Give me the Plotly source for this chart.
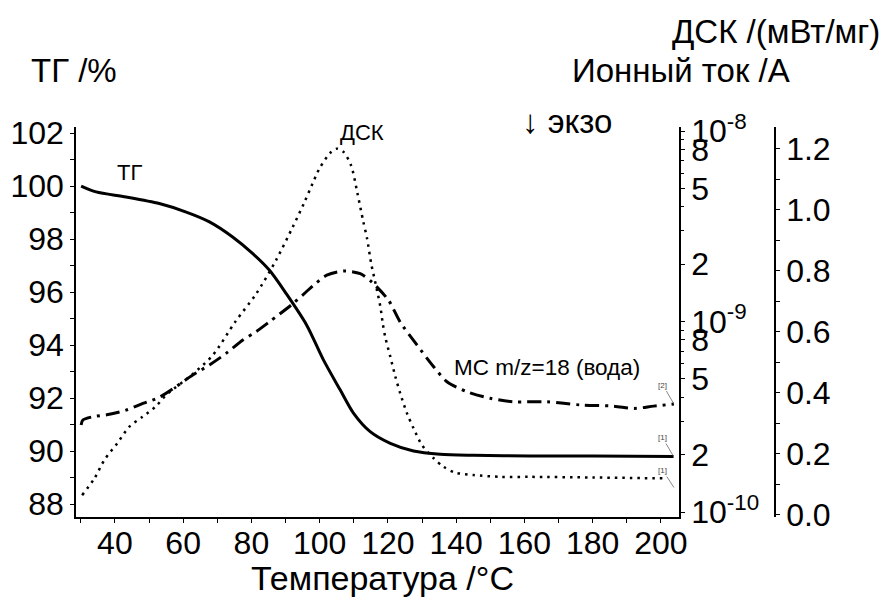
import plotly.graph_objects as go

# ---- data ----
temp_tg = [30.1, 34.5, 43.3, 53.0, 60.9, 67.7, 74.5, 80.4, 85.3, 90.2, 96.2, 101.1,
           106.0, 109.9, 114.8, 120.7, 127.5, 135.3, 145.1, 161.7, 180.0, 203.7]
tg = [100.0, 99.78, 99.59, 99.34, 99.02, 98.65, 98.08, 97.45, 96.82, 95.94, 94.75, 93.44,
      92.31, 91.43, 90.73, 90.29, 90.0, 89.88, 89.84, 89.81, 89.81, 89.79]

temp_dsc = [30.4, 34.0, 36.9, 40.8, 44.2, 48.1, 52.1, 55.0, 62.8, 68.7, 75.3, 81.4, 87.2,
            92.1, 95.4, 97.7, 99.9, 103.1, 105.0, 107.0, 109.2, 111.1, 112.7, 113.9, 115.1,
            116.6, 117.8, 118.5, 119.2, 120.7, 122.2, 123.6, 125.6, 127.5, 130.0, 133.4,
            136.3, 139.7, 145.1, 153.0, 161.7, 180.0, 200.8]
dsc = [0.065, 0.120, 0.180, 0.237, 0.289, 0.322, 0.357, 0.393, 0.462, 0.524, 0.634, 0.725,
       0.835, 0.944, 1.022, 1.081, 1.135, 1.187, 1.201, 1.190, 1.146, 1.053, 0.966, 0.906,
       0.824, 0.747, 0.682, 0.627, 0.584, 0.519, 0.453, 0.399, 0.333, 0.284, 0.229, 0.186,
       0.158, 0.139, 0.131, 0.125, 0.125, 0.123, 0.120]

temp_ms = [30.1, 30.6, 33.5, 38.4, 43.3, 48.2, 53.0, 57.9, 62.8, 67.7, 72.6, 77.5, 81.4,
           85.3, 92.1, 96.0, 98.2, 102.1, 107.0, 111.9, 115.3, 120.2, 123.6, 128.5, 133.4,
           137.3, 143.2, 149.9, 156.8, 166.6, 176.4, 186.2, 192.1, 197.9, 203.8]
ion_current = [2.864e-10, 3.041e-10, 3.162e-10, 3.258e-10, 3.428e-10, 3.715e-10, 4.000e-10,
               4.550e-10, 5.236e-10, 5.916e-10, 6.808e-10, 8.000e-10, 8.851e-10, 9.977e-10,
               1.239e-9, 1.429e-9, 1.549e-9, 1.750e-9, 1.841e-9, 1.782e-9, 1.611e-9,
               1.291e-9, 9.931e-10, 7.534e-10, 5.794e-10, 4.831e-10, 4.276e-10, 3.954e-10,
               3.793e-10, 3.793e-10, 3.648e-10, 3.597e-10, 3.499e-10, 3.597e-10, 3.690e-10]

x_ticks = [40, 60, 80, 100, 120, 140, 160, 180, 200]
tg_ticks = [88, 90, 92, 94, 96, 98, 100, 102]
ms_tickvals = [1e-10, 2e-10, 5e-10, 8e-10, 1e-9, 2e-9, 5e-9, 8e-9, 1e-8]
ms_ticktext = ["10<sup>-10</sup>", "2", "5", "8", "10<sup>-9</sup>", "2", "5", "8", "10<sup>-8</sup>"]
ms_minor = [3e-10, 4e-10, 6e-10, 7e-10, 9e-10, 3e-9, 4e-9, 6e-9, 7e-9, 9e-9]
dsc_ticks = [0.0, 0.2, 0.4, 0.6, 0.8, 1.0, 1.2]

FONT = "Arial, Liberation Sans, sans-serif"
TICKFONT = dict(family=FONT, size=32, color="black")

fig = go.Figure()
fig.add_trace(go.Scatter(x=temp_tg, y=tg, mode="lines", yaxis="y",
                         line=dict(color="black", width=3, shape="spline", smoothing=0.8),
                         showlegend=False))
fig.add_trace(go.Scatter(x=temp_ms, y=ion_current, mode="lines", yaxis="y2",
                         line=dict(color="black", width=3, shape="spline", smoothing=0.8,
                                   dash="14px,6px,3px,6px"),
                         showlegend=False))
fig.add_trace(go.Scatter(x=temp_dsc, y=dsc, mode="lines", yaxis="y3",
                         line=dict(color="black", width=2.5, shape="spline", smoothing=0.8,
                                   dash="2.5px,5px"),
                         showlegend=False))

axis_common = dict(showline=True, linecolor="black", linewidth=1.5, ticks="outside",
                   ticklen=4, tickwidth=1, tickcolor="black", showgrid=False,
                   zeroline=False, tickfont=TICKFONT, automargin=False)

# page body has an 8px margin: figure is sized so it fills the 887x599 window
fig.update_layout(
    width=879, height=591,
    margin=dict(l=68, r=112, t=119, b=82, autoexpand=False),
    paper_bgcolor="white", plot_bgcolor="white",
    xaxis=dict(domain=[0, 0.8627], range=[28.6, 205.3], tickvals=x_ticks,
               ticklabelstandoff=-7,
               minor=dict(dtick=10, tick0=0, ticks="outside", ticklen=4, tickcolor="black"),
               **axis_common),
    yaxis=dict(range=[87.51, 102.23], tickvals=tg_ticks,
               minor=dict(dtick=1, tick0=0, ticks="outside", ticklen=4, tickcolor="black"),
               **axis_common),
    yaxis2=dict(type="log", range=[-10.026, -7.979], overlaying="y", side="right",
                anchor="x", tickvals=ms_tickvals, ticktext=ms_ticktext,
                minor=dict(tickvals=ms_minor, ticks="outside", ticklen=3, tickcolor="black"),
                **axis_common),
    yaxis3=dict(range=[-0.0066, 1.272], overlaying="y", side="right", anchor="free",
                position=1.0, tickvals=dsc_ticks, tickformat=".1f",
                minor=dict(dtick=0.1, tick0=0, ticks="outside", ticklen=4, tickcolor="black"),
                **axis_common),
)

ann_font = dict(family=FONT, color="black")
def title_ann(text, x, y, size):
    return dict(text=text, x=x, y=y, xref="paper", yref="paper", showarrow=False,
                xanchor="center", yanchor="middle", font=dict(size=size, **ann_font))

annotations = [
    title_ann("ТГ /%", -0.003, 1.146, 33),
    title_ann("Ионный ток /А", 0.8655, 1.146, 33),
    title_ann("ДСК /(мВт/мг)", 1.0014, 1.244, 33),
    title_ann("↓ экзо", 0.702, 1.013, 33),
    title_ann("Температура /°С", 0.4378, -0.156, 34),
    dict(text="ТГ", x=44.4, y=100.53, xref="x", yref="y", showarrow=False,
         xanchor="center", yanchor="middle", font=dict(size=22, **ann_font)),
    dict(text="ДСК", x=112.5, y=102.04, xref="x", yref="y", showarrow=False,
         xanchor="center", yanchor="middle", font=dict(size=22, **ann_font)),
    dict(text="МС m/z=18 (вода)", x=166.7, y=93.14, xref="x", yref="y", showarrow=False,
         xanchor="center", yanchor="middle", font=dict(size=22.5, **ann_font)),
    dict(text="[2]", x=temp_ms[-1], y=-9.433, xref="x", yref="y2", showarrow=True,
         arrowhead=0, arrowwidth=0.7, arrowcolor="#555", ax=-11, ay=-19,
         font=dict(size=8, family=FONT, color="#444")),
    dict(text="[1]", x=temp_tg[-1], y=tg[-1], xref="x", yref="y", showarrow=True,
         arrowhead=0, arrowwidth=0.7, arrowcolor="#555", ax=-11, ay=-19,
         font=dict(size=8, family=FONT, color="#444")),
    dict(text="[1]", x=temp_dsc[-1] + 3, y=dsc[-1] - 0.03, xref="x", yref="y3",
         showarrow=True, arrowhead=0, arrowwidth=0.7, arrowcolor="#555", ax=-11, ay=-17,
         font=dict(size=8, family=FONT, color="#444")),
]
fig.update_layout(annotations=annotations)

fig.write_html("out.html")
